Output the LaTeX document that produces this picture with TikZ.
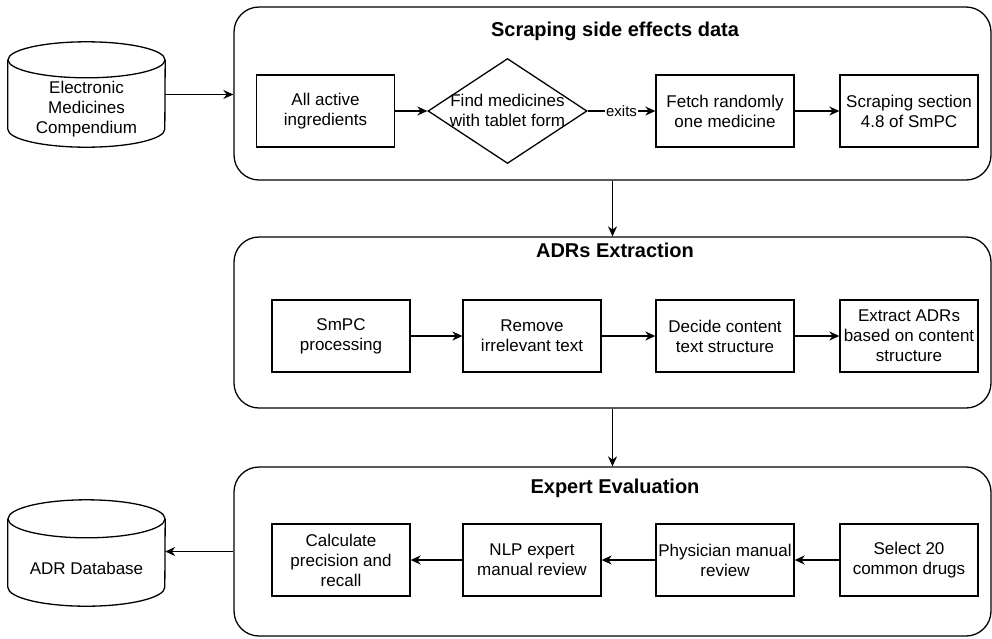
\documentclass[tikz,border=0pt]{standalone}
\usepackage{fontspec}
\setmainfont{Liberation Sans}
\usetikzlibrary{shapes.geometric,arrows.meta}
\tikzset{
  box/.style={draw, line width=1.3pt, minimum width=138pt, minimum height=72pt, inner sep=0pt, align=center, font=\fontsize{17}{20}\selectfont},
  container/.style={draw, line width=1.3pt, rounded corners=25pt, minimum width=757pt, inner sep=0pt},
  titletext/.style={font=\bfseries\fontsize{20}{24}\selectfont, inner sep=0pt},
  arr/.style={line width=1.3pt, -{Stealth[length=10pt,width=9pt]}},
  cyl/.style={line width=1.3pt},
  txt/.style={align=center, font=\fontsize{17}{20}\selectfont, inner sep=0pt},
  cylbody/.style={minimum width=157pt, inner sep=0pt}
}
\begin{document}
\begin{tikzpicture}[x=1pt,y=-1pt]
\useasboundingbox (0,0) rectangle (992,638);
% containers
\node[container, minimum height=173pt] (c1) at (612.5,93.5) {};
\node[container, minimum height=171pt] (c2) at (612.5,322.5) {};
\node[container, minimum height=169pt] (c3) at (612.5,551.5) {};
\node[titletext] (t1) at (615,31) {Scraping side effects data};
\node[titletext] (t2) at (615,250) {ADRs Extraction};
\node[titletext] (t3) at (615,488) {Expert Evaluation};
% cylinder 1
\node[cylbody, minimum height=69pt] (emc) at (86.5,94.5) {};
\draw[cyl] (emc.north west) -- (emc.south west) arc[start angle=180, end angle=360, x radius=78.5pt, y radius=18pt] -- (emc.north east);
\draw[cyl] (emc.north) ellipse [x radius=78.5pt, y radius=18pt];
\node[txt] (emcl) at (86.5,109) {Electronic\\Medicines\\Compendium};
% cylinder 2
\node[cylbody, minimum height=68pt] (adr) at (86.5,553) {};
\draw[cyl] (adr.north west) -- (adr.south west) arc[start angle=180, end angle=360, x radius=78.5pt, y radius=19pt] -- (adr.north east);
\draw[cyl] (adr.north) ellipse [x radius=78.5pt, y radius=19pt];
\node[txt] (adrl) at (86.5,568) {ADR Database};
% row 1
\node[box] (ing) at (325.5,111) {All active\\ingredients};
\node[diamond, draw, line width=1.3pt, minimum width=159pt, minimum height=105pt, inner sep=0pt] (find) at (507.5,111) {};
\node[txt] (findl) at (507.5,110) {Find medicines\\with tablet form};
\node[box] (fetch) at (725,111) {Fetch randomly\\one medicine};
\node[box] (scrape) at (909,111) {Scraping section\\4.8 of SmPC};
% row 2
\node[box] (smpc) at (341,336) {SmPC\\processing};
\node[box] (remove) at (532,336) {Remove\\irrelevant text};
\node[box] (decide) at (725,336) {Decide content\\text structure};
\node[box] (extract) at (909,336) {Extract ADRs\\based on content\\structure};
% row 3
\node[box] (calc) at (341,560) {Calculate\\precision and\\recall};
\node[box] (nlp) at (532,560) {NLP expert\\manual review};
\node[box] (phys) at (725,560) {Physician manual\\review};
\node[box] (select) at (909,560) {Select 20\\common drugs};
% connectors
\draw[arr] (emc.east) -- (emc.east -| c1.west);
\draw[arr] (ing) -- (find);
\draw[arr] (find) -- node[fill=white, inner sep=1pt, font=\fontsize{15}{18}\selectfont] (exits) {exits} (fetch);
\draw[arr] (fetch) -- (scrape);
\draw[arr] (c1.south) -- (c2.north);
\draw[arr] (smpc) -- (remove);
\draw[arr] (remove) -- (decide);
\draw[arr] (decide) -- (extract);
\draw[arr] (c2.south) -- (c3.north);
\draw[arr] (select) -- (phys);
\draw[arr] (phys) -- (nlp);
\draw[arr] (nlp) -- (calc);
\draw[arr] (c3.west) -- (c3.west -| adr.east);
\end{tikzpicture}
\end{document}
